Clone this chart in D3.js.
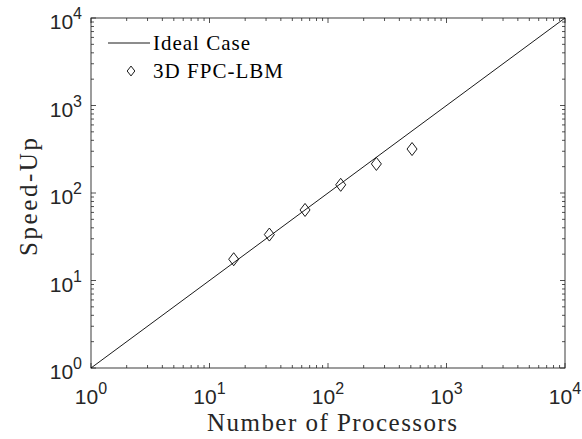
<!DOCTYPE html>
<html>
<head>
<meta charset="utf-8">
<script src="https://cdn.jsdelivr.net/npm/d3@7"></script>
<style>
  html, body { margin: 0; padding: 0; background: #fff; }
  svg { display: block; }
</style>
</head>
<body>
<svg id="chart" width="582" height="439"></svg>
<script>
// Measured speed-up of the 3D FPC-LBM solver against processor count
const processors = [16, 32, 64, 128, 256, 512];
const speedUp = [17.5, 33.5, 64, 124, 215, 318];

// Ideal linear scaling reference (speed-up equals processor count)
const idealX = [1, 10000];

// Axis decades
const xTickExponents = [0, 1, 2, 3, 4];
const yTickExponents = [0, 1, 2, 3, 4];

const legendLabels = ["Ideal Case", "3D FPC-LBM"];

const margin = { left: 91, right: 17, top: 18, bottom: 71 };
const W = 582, H = 439;
const svg = d3.select("#chart");

const x = d3.scaleLog().domain([1, 10000]).range([margin.left, W - margin.right]);
const y = d3.scaleLog().domain([1, 10000]).range([H - margin.bottom, margin.top]);

const x0 = margin.left, x1 = W - margin.right, y0 = H - margin.bottom, y1 = margin.top;

// Minor and major tick values across the decades
const minorVals = [];
for (let e = 0; e < 4; e++) for (let m = 2; m <= 9; m++) minorVals.push(m * Math.pow(10, e));
const majorVals = xTickExponents.map(e => Math.pow(10, e));

const ticks = svg.append("g").attr("stroke", "#262626").attr("stroke-width", 0.8);
const majLen = 5, minLen = 3;
function drawTicks(vals, len) {
  vals.forEach(v => {
    const px = x(v), py = y(v);
    ticks.append("line").attr("x1", px).attr("x2", px).attr("y1", y0).attr("y2", y0 - len);
    ticks.append("line").attr("x1", px).attr("x2", px).attr("y1", y1).attr("y2", y1 + len);
    ticks.append("line").attr("y1", py).attr("y2", py).attr("x1", x0).attr("x2", x0 + len);
    ticks.append("line").attr("y1", py).attr("y2", py).attr("x1", x1).attr("x2", x1 - len);
  });
}
drawTicks(minorVals, minLen);
drawTicks(majorVals, majLen);

// Box
svg.append("rect")
  .attr("x", x0).attr("y", y1).attr("width", x1 - x0).attr("height", y0 - y1)
  .attr("fill", "none").attr("stroke", "#262626").attr("stroke-width", 0.9);

// Tick labels: 10 with superscript exponent
const tickFont = "Liberation Sans, Arial, sans-serif";
function powerLabel(t, e) {
  t.append("tspan").text("10");
  t.append("tspan").attr("dy", -10).attr("font-size", 16).text(e);
}
xTickExponents.forEach(e => {
  const t = svg.append("text")
    .attr("x", x(Math.pow(10, e))).attr("y", y0 + 36)
    .attr("text-anchor", "middle")
    .attr("font-family", tickFont).attr("font-size", 21).attr("fill", "#262626");
  powerLabel(t, e);
});
yTickExponents.forEach(e => {
  const t = svg.append("text")
    .attr("x", x0 - 9).attr("y", y(Math.pow(10, e)) + 11)
    .attr("text-anchor", "end")
    .attr("font-family", tickFont).attr("font-size", 21).attr("fill", "#262626");
  powerLabel(t, e);
});

// Axis titles
const serif = "Liberation Serif, 'Times New Roman', serif";
svg.append("text")
  .attr("x", 332).attr("y", 431)
  .attr("text-anchor", "middle")
  .attr("font-family", serif).attr("font-size", 25).attr("fill", "#262626")
  .attr("textLength", 250).attr("lengthAdjust", "spacing")
  .text("Number of Processors");
svg.append("text")
  .attr("transform", `translate(37,197) rotate(-90)`)
  .attr("text-anchor", "middle")
  .attr("font-family", serif).attr("font-size", 25).attr("fill", "#262626")
  .attr("textLength", 118).attr("lengthAdjust", "spacing")
  .text("Speed-Up");

// Ideal scaling line
const line = d3.line().x(d => x(d)).y(d => y(d));
svg.append("path")
  .datum(idealX)
  .attr("d", line)
  .attr("fill", "none").attr("stroke", "#000").attr("stroke-width", 0.9);

// Measured points as open diamonds
const diamond = d3.symbol().type(d3.symbolDiamond).size(49);
svg.append("g").selectAll("path")
  .data(processors.map((p, i) => [p, speedUp[i]]))
  .join("path")
  .attr("transform", d => `translate(${x(d[0])},${y(d[1])}) scale(1.33,1)`)
  .attr("d", diamond)
  .attr("fill", "none").attr("stroke", "#000").attr("stroke-width", 0.9)
  .attr("vector-effect", "non-scaling-stroke");

// Legend
const lg = svg.append("g");
lg.append("line").attr("x1", 108).attr("x2", 150).attr("y1", 43).attr("y2", 43)
  .attr("stroke", "#000").attr("stroke-width", 0.9);
lg.append("path").attr("transform", "translate(131,71) scale(1.35,1)")
  .attr("d", d3.symbol().type(d3.symbolDiamond).size(28))
  .attr("fill", "none").attr("stroke", "#000").attr("stroke-width", 0.9)
  .attr("vector-effect", "non-scaling-stroke");
const legendWidths = [97, 130];
legendLabels.forEach((lab, i) => {
  lg.append("text")
    .attr("x", 153).attr("y", 50 + i * 28)
    .attr("font-family", serif).attr("font-size", 21).attr("fill", "#000")
    .attr("textLength", legendWidths[i]).attr("lengthAdjust", "spacing")
    .text(lab);
});
</script>
</body>
</html>
